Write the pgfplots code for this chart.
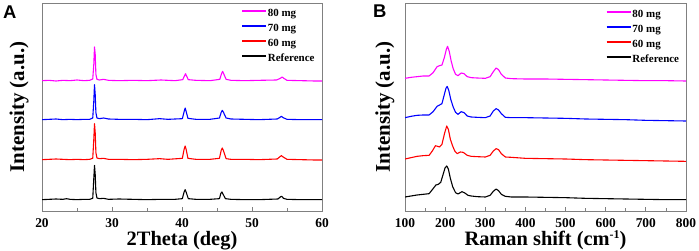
\documentclass[border=0pt]{standalone}
\usepackage{pgfplots}
\pgfplotsset{compat=1.18}
\usepackage{fontspec}
\setmainfont{Liberation Serif}
\newfontfamily\arialfont{Liberation Sans}
\definecolor{cmag}{RGB}{255,0,255}
\definecolor{cblue}{RGB}{0,0,255}
\definecolor{cred}{RGB}{255,0,0}
\definecolor{frame}{RGB}{128,128,128}
\begin{document}
\begin{tikzpicture}
\path[use as bounding box] (0,0) rectangle (699bp,251bp);
\pgfplotsset{
  myax/.style={
    scale only axis, height=208bp,
    ymin=0, ymax=624, ytick=\empty,
    axis line style={frame, line width=0.9pt},
    tick style={frame, line width=0.8pt},
    tick align=inside, major tick length=4bp, minor tick length=2.5bp,
    xtick pos=bottom, minor x tick num=1,
    /pgf/number format/assume math mode=true,
    ticklabel style={font=\fontsize{13.5}{14}\selectfont\bfseries},
    xticklabel style={anchor=base, yshift=-16bp},
    xlabel style={font=\fontsize{20.5}{21}\selectfont\bfseries, anchor=base},
    ylabel style={font=\fontsize{21}{22}\selectfont\bfseries, anchor=base},
    legend style={draw=none, fill=none, font=\fontsize{11}{12}\selectfont\bfseries,
      inner sep=0pt, outer sep=0pt, row sep=3.4bp, anchor=north east,
      nodes={inner sep=1pt, text height=8bp, text depth=1.7bp}},
    legend cell align=left,
    legend image code/.code={\draw[#1, line width=1.8pt] (0bp,2.5bp) -- (24bp,2.5bp);},
    every axis plot/.append style={line width=1.1pt, line join=round},
  }
}
% ---------------- Panel A ----------------
\begin{axis}[myax, at={(42bp,40bp)}, width=280bp,
  xmin=20, xmax=60, xtick={20,30,40,50,60},
  xlabel={2Theta (deg)}, ylabel={Intensity (a.u.)},
  xlabel style={at={(axis description cs:0.5,-0.165)}},
  ylabel style={at={(axis description cs:-0.064,0.5)}},
  legend style={at={(axis description cs:0.977,0.978)}}]
\addplot[cmag] coordinates {(20,391)(21,392)(22,390)(23,392)(24,391)(25,393)(26,391)(26.8,392)(27.25,396)(27.4,440)(27.5,492)(27.6,470)(27.7,410)(27.85,395)(28.2,393)(28.8,395)(29.5,392)(31,391)(33,392)(35,391)(37,393)(39,391)(40.1,394)(40.35,405)(40.5,412)(40.65,405)(40.9,394)(42,392)(44,391)(45.4,395)(45.65,412)(45.8,419)(45.95,412)(46.3,395)(47,392)(49,391)(51,392)(53.5,393)(54.05,398)(54.3,402)(54.55,398)(55,392)(57,391)(59,390)(60,390)};
\addlegendentry{80 mg}
\addplot[cblue] coordinates {(20,274)(21,275)(22,276)(23,274)(24,275)(25,274)(26,275)(26.8,275)(27.25,279)(27.4,330)(27.5,379)(27.6,350)(27.7,295)(27.85,279)(28.2,277)(28.8,279)(29.5,276)(31,275)(33,275)(35,274)(36.8,277)(38,275)(40.05,277)(40.3,298)(40.45,309)(40.6,298)(40.85,278)(42,275)(44,275)(45.35,279)(45.6,296)(45.75,302)(45.9,297)(46.3,279)(47,276)(49,275)(51,274)(53.6,276)(54.0,281)(54.2,284)(54.45,280)(55,275)(57,274)(59,274)(60,274)};
\addlegendentry{70 mg}
\addplot[cred] coordinates {(20,154)(21,155)(22,156)(23,155)(24,154)(25,155)(26,154)(26.8,155)(27.25,158)(27.4,215)(27.5,262)(27.6,235)(27.7,175)(27.85,159)(28.2,157)(28.8,158)(29.5,155)(31,155)(33,154)(35,155)(36.8,157)(38,155)(40.05,158)(40.3,185)(40.45,195)(40.6,184)(40.85,158)(42,155)(44,155)(45.35,158)(45.6,182)(45.75,189)(45.9,182)(46.3,157)(47,155)(49,155)(51,154)(53.6,156)(54.0,163)(54.2,166)(54.45,162)(55,155)(57,154)(59,153)(60,153)};
\addlegendentry{60 mg}
\addplot[black] coordinates {(20,34)(21,35)(22,36)(23,35)(23.5,37)(24,35)(25,34)(26,35)(26.8,35)(27.25,38)(27.38,90)(27.5,137)(27.6,110)(27.7,55)(27.85,39)(28.2,37)(28.8,38)(29.5,35)(31,36)(33,35)(35,34)(37,35)(39,35)(40.05,37)(40.3,57)(40.45,64)(40.6,56)(40.9,37)(42,35)(44,35)(45.35,37)(45.55,53)(45.7,57)(45.85,51)(46.2,37)(47,35)(49,34)(51,34)(53.7,36)(54.1,43)(54.25,44)(54.5,38)(55,35)(57,34)(59,34)(60,34)};
\addlegendentry{Reference}
\end{axis}
% ---------------- Panel B ----------------
\begin{axis}[myax, at={(405bp,40bp)}, width=281bp,
  xmin=100, xmax=800, xtick={100,200,...,800},
  xlabel={Raman shift (cm\raisebox{0.36em}{\fontsize{12}{12}\selectfont -1})}, ylabel={Intensity (a.u.)},
  xlabel style={at={(axis description cs:0.5,-0.168)}},
  ylabel style={at={(axis description cs:-0.054,0.5)}},
  legend style={at={(axis description cs:0.979,0.973)}}]
\addplot[cmag] coordinates {(100,398)(115,401)(130,403)(145,405)(160,405)(170,415)(180,433)(186,436)(192,438)(198,460)(203,485)(206,494)(210,480)(215,450)(220,427)(226,410)(232,406)(240,414)(247,412)(255,403)(265,400)(280,399)(300,398)(312,403)(320,418)(327,429)(333,424)(340,410)(350,399)(365,397)(400,396)(450,396)(500,395)(550,394)(600,393)(650,392)(700,391)(750,391)(800,390)};
\addlegendentry{80 mg}
\addplot[cblue] coordinates {(100,280)(115,284)(130,287)(145,288)(160,288)(170,298)(180,314)(186,318)(192,322)(197,345)(202,368)(205,374)(209,362)(214,335)(220,312)(226,296)(232,290)(240,298)(247,295)(255,285)(265,282)(280,281)(300,280)(312,285)(320,300)(327,307)(333,303)(340,292)(350,281)(365,280)(400,280)(450,279)(500,278)(550,276)(600,275)(650,274)(700,272)(750,271)(800,270)};
\addlegendentry{70 mg}
\addplot[cred] coordinates {(100,156)(115,160)(130,164)(145,166)(160,167)(168,180)(176,196)(181,194)(186,192)(192,200)(199,235)(204,255)(208,245)(213,215)(218,197)(224,180)(230,172)(238,177)(245,176)(255,167)(265,164)(280,163)(300,162)(312,167)(320,180)(327,187)(333,184)(340,172)(350,162)(365,161)(400,158)(450,157)(500,156)(550,154)(600,153)(650,152)(700,151)(750,150)(800,149)};
\addlegendentry{60 mg}
\addplot[black] coordinates {(100,42)(115,45)(130,48)(145,50)(160,52)(168,64)(177,78)(183,80)(189,86)(195,110)(200,130)(204,135)(208,126)(213,98)(219,72)(226,55)(232,51)(242,58)(249,54)(257,47)(265,45)(280,43)(300,42)(312,47)(320,59)(327,66)(333,61)(340,50)(350,44)(365,42)(400,42)(450,41)(500,40)(550,38)(600,37)(650,36)(700,35)(750,34)(800,34)};
\addlegendentry{Reference}
\end{axis}
\node[anchor=north west, inner sep=0pt, font=\arialfont\bfseries\fontsize{18.5}{19}\selectfont] at (3bp,245bp) {A};
\node[anchor=north west, inner sep=0pt, font=\arialfont\bfseries\fontsize{18.5}{19}\selectfont] at (373bp,246bp) {B};
\end{tikzpicture}
\end{document}
